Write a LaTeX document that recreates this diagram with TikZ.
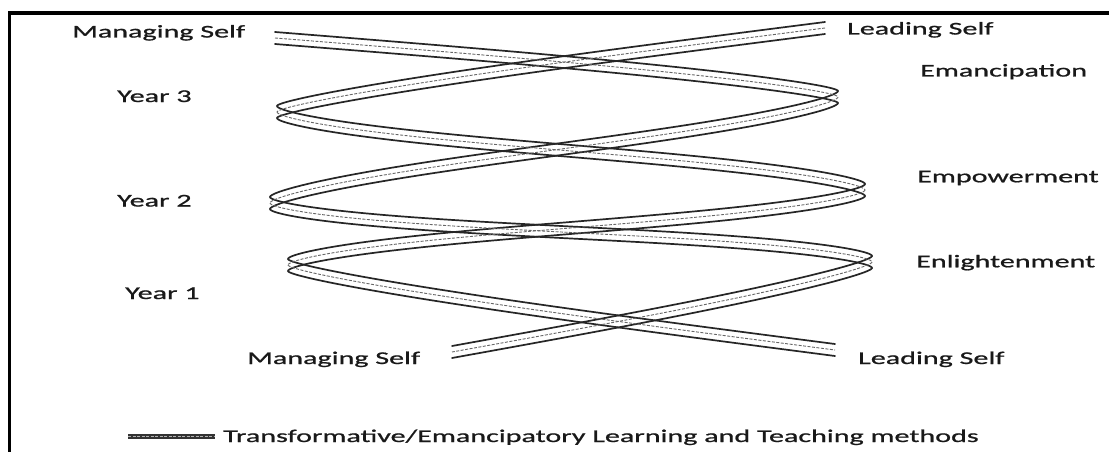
\documentclass[tikz,border=0pt]{standalone}
\usepackage{fontspec}
\setmainfont{Carlito}[FakeStretch=1.68, FakeBold=0.9]
% one half-turn of a strand: xP yP xQ yQ domain style
\newcommand\HTd[6]{\draw[#6] plot[domain=#5, samples=60, variable=\t] ({#1+((#3)-(#1))*(1-cos(\t))/2}, {#2+((#4)-(#2))*(1-cos(\t))/2+7*sin(2*\t)});}
\newcommand\strandA[1]{%
  \HTd{-288}{-21}{838}{97}{90:180}{#1}%
  \HTd{838}{97}{270}{203}{0:180}{#1}%
  \HTd{270}{203}{872}{262}{0:180}{#1}%
  \HTd{872}{262}{32}{442}{0:90}{#1}}
\newcommand\strandB[1]{%
  \HTd{1373}{-56}{277}{112}{90:180}{#1}%
  \HTd{277}{112}{865}{190}{0:180}{#1}%
  \HTd{865}{190}{288}{265}{0:180}{#1}%
  \HTd{288}{265}{1382}{435}{0:90}{#1}}
\tikzset{
  ribbonedge/.style={draw=black!85, line width=1.7pt, line join=round, line cap=round},
  ribbonmid/.style={draw=black!60, line width=0.9pt, dash pattern=on 3pt off 1.5pt},
  lbl/.style={anchor=base west, inner sep=0pt, font=\fontsize{17.9pt}{20pt}\selectfont, text=black!90},
  frameline/.style={draw=black, line width=3.5pt}
}
\begin{document}
\begin{tikzpicture}[x=1pt,y=-1pt]
\useasboundingbox (0,0) rectangle (1111,452);
\fill[white] (0,0) rectangle (1111,452);
% frame
\draw[frameline] (9.5,452) -- (9.5,13) -- (1109,13);
% strands
\strandA{ribbonedge, yshift=6pt}
\strandA{ribbonedge, yshift=-6pt}
\strandB{ribbonedge, yshift=6pt}
\strandB{ribbonedge, yshift=-6pt}
\strandA{ribbonmid}
\strandB{ribbonmid}
% labels
\node[lbl] (ms1) at (72,37.5) {Managing Self};
\node[lbl] (ls1) at (847,34.5) {Leading Self};
\node[lbl] (em) at (920,76.5) {Emancipation};
\node[lbl] (y3) at (117,102) {Year 3};
\node[lbl] (ep) at (917,182.3) {Empowerment};
\node[lbl] (y2) at (117,206.5) {Year 2};
\node[lbl] (en) at (916,267.3) {Enlightenment};
\node[lbl] (y1) at (125,299) {Year 1};
\node[lbl] (ms2) at (247,364) {Managing Self};
\node[lbl] (ls2) at (858,364) {Leading Self};
% legend
\coordinate (lg1) at (128,436.5);
\coordinate (lg2) at (215,436.5);
\draw[draw=black!80, line width=5pt] (lg1) -- (lg2);
\draw[draw=white!70!black, line width=0.9pt, dash pattern=on 3pt off 1.5pt] (lg1) -- (lg2);
\node[lbl] (lg) at (223,442) {Transformative/Emancipatory Learning and Teaching methods};
\end{tikzpicture}
\end{document}
